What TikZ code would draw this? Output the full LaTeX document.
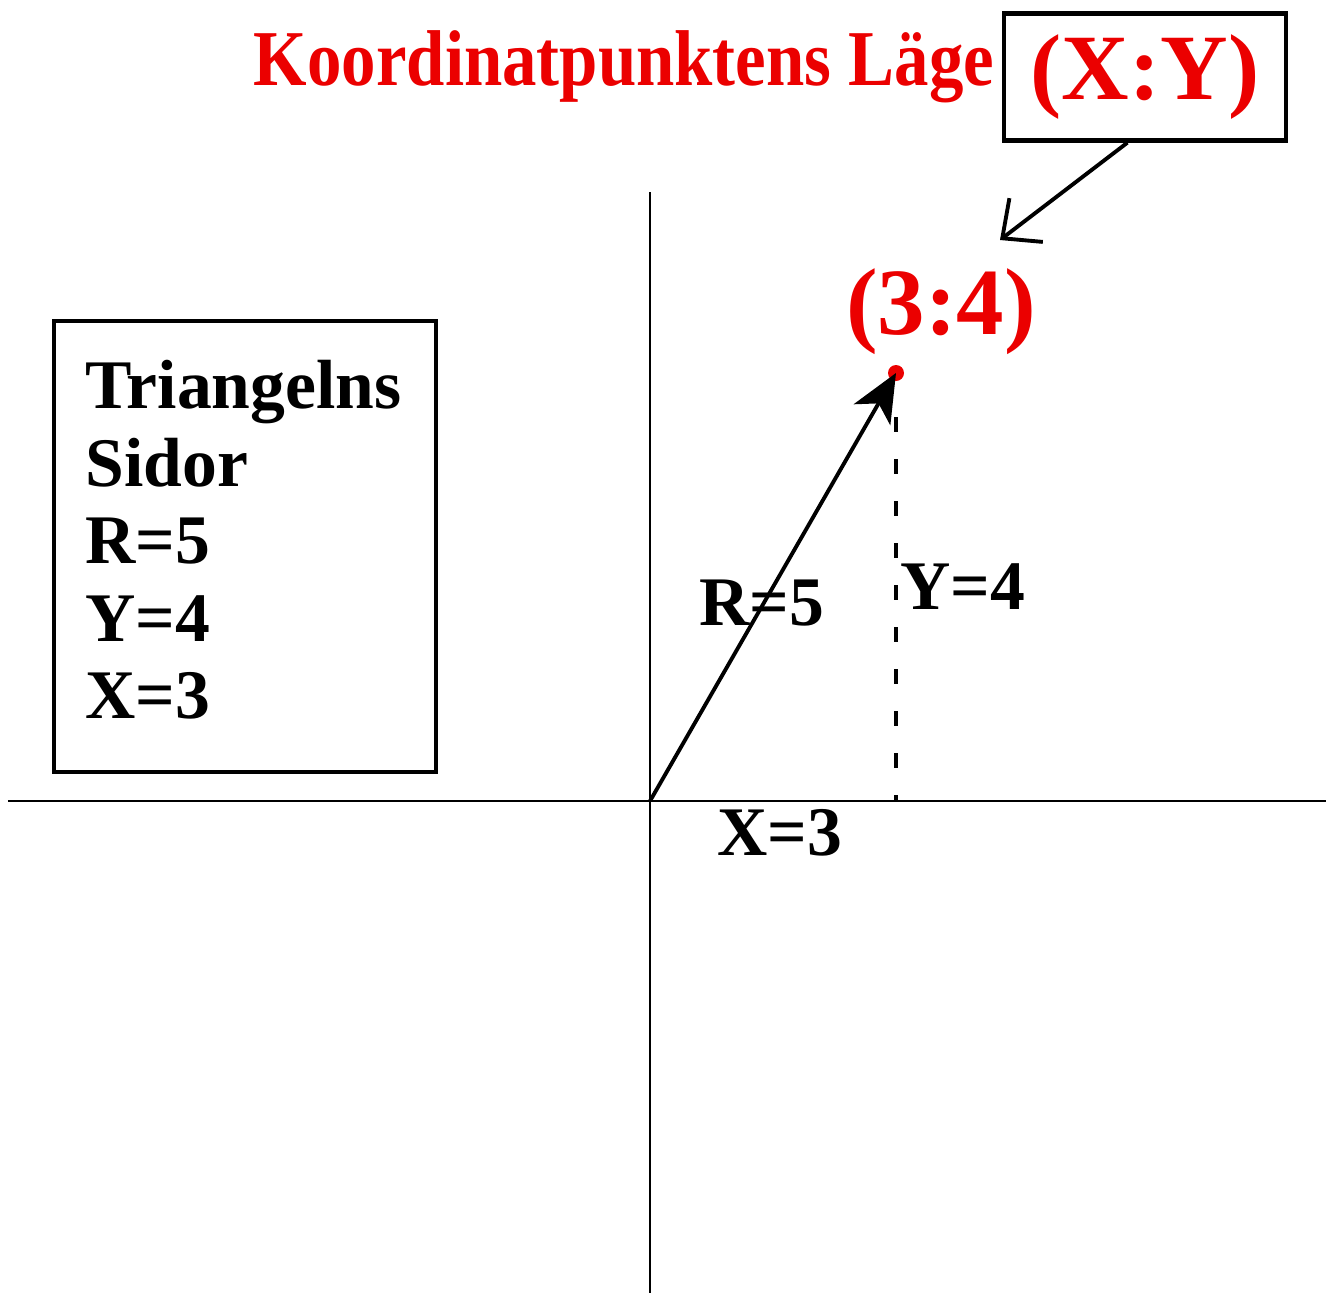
\documentclass[tikz,border=0pt]{standalone}
\usepackage{fontspec}
\setmainfont{Liberation Serif}
\usetikzlibrary{arrows.meta, positioning}

\definecolor{labelred}{RGB}{235,0,0}

\begin{document}
\begin{tikzpicture}[
  x=0.01cm, y=-0.01cm,
  axis/.style={line width=0.75pt},
  frame/.style={draw=black, line width=1.2pt},
  big/.style={font=\fontsize{19.8}{22.05}\selectfont\bfseries},
  huge/.style={font=\fontsize{26.6}{30}\selectfont\bfseries},
  vector/.style={line width=1.1pt, -{Stealth[length=4.8mm, width=4.2mm, inset=1.3mm]}},
  pointer/.style={line width=1.1pt, -{Straight Barb[length=3mm, width=5.5mm]}},
]
  \useasboundingbox (0,0) rectangle (1326,1293);

  % axes
  \coordinate (origin) at (650,801);
  \draw[axis] (8,801) -- (1326,801);
  \draw[axis] (650,192) -- (650,1293);

  % header
  \node[text=labelred, font=\fontsize{22.5}{25}\selectfont\bfseries, xscale=0.87] (title) at (624,67) {Koordinatpunktens Läge};
  \node[frame, huge, text=labelred, minimum width=2.82cm, minimum height=1.27cm] (xybox) at (1145,77) {(X:Y)\hspace{0.1cm}};

  % point
  \coordinate (point) at (896,373);
  \fill[labelred] (point) circle (8);
  \node[text=labelred, font=\fontsize{27}{30}\selectfont\bfseries] (pointlabel) at (941,312) {(3:4)};
  \coordinate (pointtip) at (1000,240);
  \draw[pointer] (xybox.-105) -- (pointtip);

  % triangle
  \coordinate (foot) at (896,801);
  \draw[line width=1.1pt, dash pattern=on 0.15cm off 0.27cm] (point) ++(0,44) -- (foot);
  \draw[vector] (origin) -- (point);
  \node[big] (rlabel) at (762,603) {R=5};
  \node[big] (ylabel) at (963,587) {Y=4};
  \node[big] (xlabel) at (780,833) {X=3};

  % side box
  \node[frame, minimum width=3.82cm, minimum height=4.51cm, anchor=north west] (sides) at (52,319) {};
  \node[big, align=left, anchor=west, yshift=0.07cm] (sidetext) at ([xshift=0.21cm]sides.west)
    {Triangelns\\Sidor\\R=5\\Y=4\\X=3};
\end{tikzpicture}
\end{document}
